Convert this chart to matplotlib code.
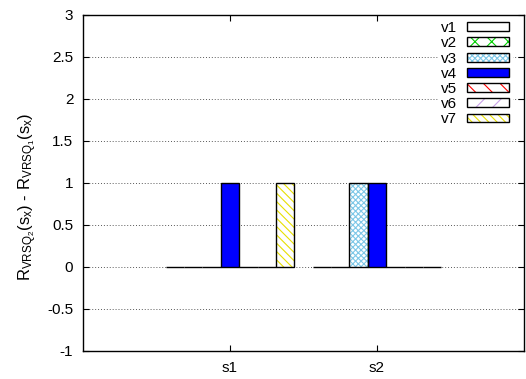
import numpy as np
import matplotlib
matplotlib.use("Agg")
import matplotlib.pyplot as plt
from matplotlib.patches import Patch
from matplotlib.ticker import FuncFormatter, MultipleLocator

plt.rcParams['font.family'] = ['Liberation Sans', 'DejaVu Sans']
plt.rcParams['mathtext.default'] = 'regular'
plt.rcParams['axes.unicode_minus'] = False
plt.rcParams['hatch.linewidth'] = 0.8

categories = ["s1", "s2"]
series_names = ["v1", "v2", "v3", "v4", "v5", "v6", "v7"]
v1 = [0, 0]
v2 = [0, 0]
v3 = [0, 1]
v4 = [1, 1]
v5 = [0, 0]
v6 = [0, 0]
v7 = [1, 0]
series = [v1, v2, v3, v4, v5, v6, v7]

# (face colour, hatch colour, hatch pattern) per series
styles = [
    ("white", "black", None),
    ("white", "#00d000", "xx"),
    ("white", "#7ec8e8", "xxxxxx"),
    ("#0000ff", "#0000ff", None),
    ("white", "#ff0000", "\\\\"),
    ("white", "#c8a0e8", "//"),
    ("white", "#e8e000", "\\\\\\\\"),
]

fig = plt.figure(figsize=(5.26, 3.79), dpi=100)
ax = fig.add_axes([83 / 526, 28 / 379, 441 / 526, 336 / 379])

n = len(series)
width = 1.0 / (n + 1)
x = np.arange(len(categories))

handles = []
for i, (name, vals) in enumerate(zip(series_names, series)):
    face, hcol, hatch = styles[i]
    pos = x + (i - (n - 1) / 2) * width
    ax.bar(pos, vals, width, color=face, edgecolor=hcol, hatch=hatch,
           linewidth=0, zorder=2)
    ax.bar(pos, vals, width, fill=False, edgecolor="black", linewidth=1,
           zorder=3)
    fill = Patch(facecolor=face, edgecolor=hcol, hatch=hatch, linewidth=0)
    outline = Patch(fill=False, edgecolor="black", linewidth=1)
    handles.append((fill, outline))

ax.set_xlim(-1, 2)
ax.set_ylim(-1, 3)
ax.set_xticks(x)
ax.set_xticklabels(categories)
ax.yaxis.set_major_locator(MultipleLocator(0.5))
ax.yaxis.set_major_formatter(FuncFormatter(lambda v, p: "%g" % v))

ax.grid(axis="y", color="0.35", linestyle=(0, (1, 2)), linewidth=0.7, zorder=0)
ax.set_axisbelow(True)
ax.tick_params(direction="in", length=4, width=0.8, labelsize=11,
               top=True, right=True, pad=7)
for s in ax.spines.values():
    s.set_linewidth(1)

ax.set_ylabel(r"$R_{VRSQ_2}(s_x)$ - $R_{VRSQ_1}(s_x)$", fontsize=12)
ax.yaxis.set_label_coords(-0.10, 0.46)

leg = ax.legend(handles, series_names, loc="upper right", markerfirst=False,
                bbox_to_anchor=(0.973, 0.991), borderaxespad=0,
                fontsize=11, handlelength=2.75, handleheight=0.52,
                labelspacing=0.08, handletextpad=0.65,
                frameon=True, fancybox=False, framealpha=1, edgecolor="white",
                borderpad=0.2)
leg.set_zorder(5)

fig.savefig("out.png", dpi=100)
